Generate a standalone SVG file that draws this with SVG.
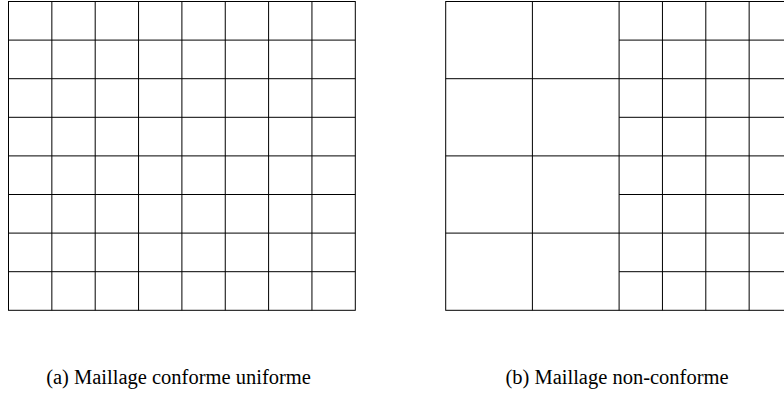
<svg xmlns="http://www.w3.org/2000/svg" width="784" height="394" viewBox="0 0 784 394">
<style>
.g{fill:none;stroke:#000;stroke-width:1}
.t{font-family:"Liberation Serif","Times New Roman",serif;font-size:20.5px;fill:#000;text-anchor:middle}
</style>
<rect width="784" height="394" fill="#fff"/>
<g id="mesh-a" class="g">
<rect x="8.5" y="1.5" width="346.8" height="308.8"/>
<path d="M51.85 1.5V310.3M95.2 1.5V310.3M138.55 1.5V310.3M181.9 1.5V310.3M225.25 1.5V310.3M268.6 1.5V310.3M311.95 1.5V310.3"/>
<path d="M8.5 40.1H355.3M8.5 78.7H355.3M8.5 117.3H355.3M8.5 155.9H355.3M8.5 194.5H355.3M8.5 233.1H355.3M8.5 271.7H355.3"/>
</g>
<g id="mesh-b" class="g">
<rect x="445.7" y="1.5" width="346.8" height="308.8"/>
<path d="M532.4 1.5V310.3M619.1 1.5V310.3M662.45 1.5V310.3M705.8 1.5V310.3M749.15 1.5V310.3"/>
<path d="M445.7 78.7H792.5M445.7 155.9H792.5M445.7 233.1H792.5"/>
<path d="M619.1 40.1H792.5M619.1 117.3H792.5M619.1 194.5H792.5M619.1 271.7H792.5"/>
</g>
<g id="captions">
<text class="t" x="178.5" y="384">(a) Maillage conforme uniforme</text>
<text class="t" x="617" y="384">(b) Maillage non-conforme</text>
</g>
</svg>
